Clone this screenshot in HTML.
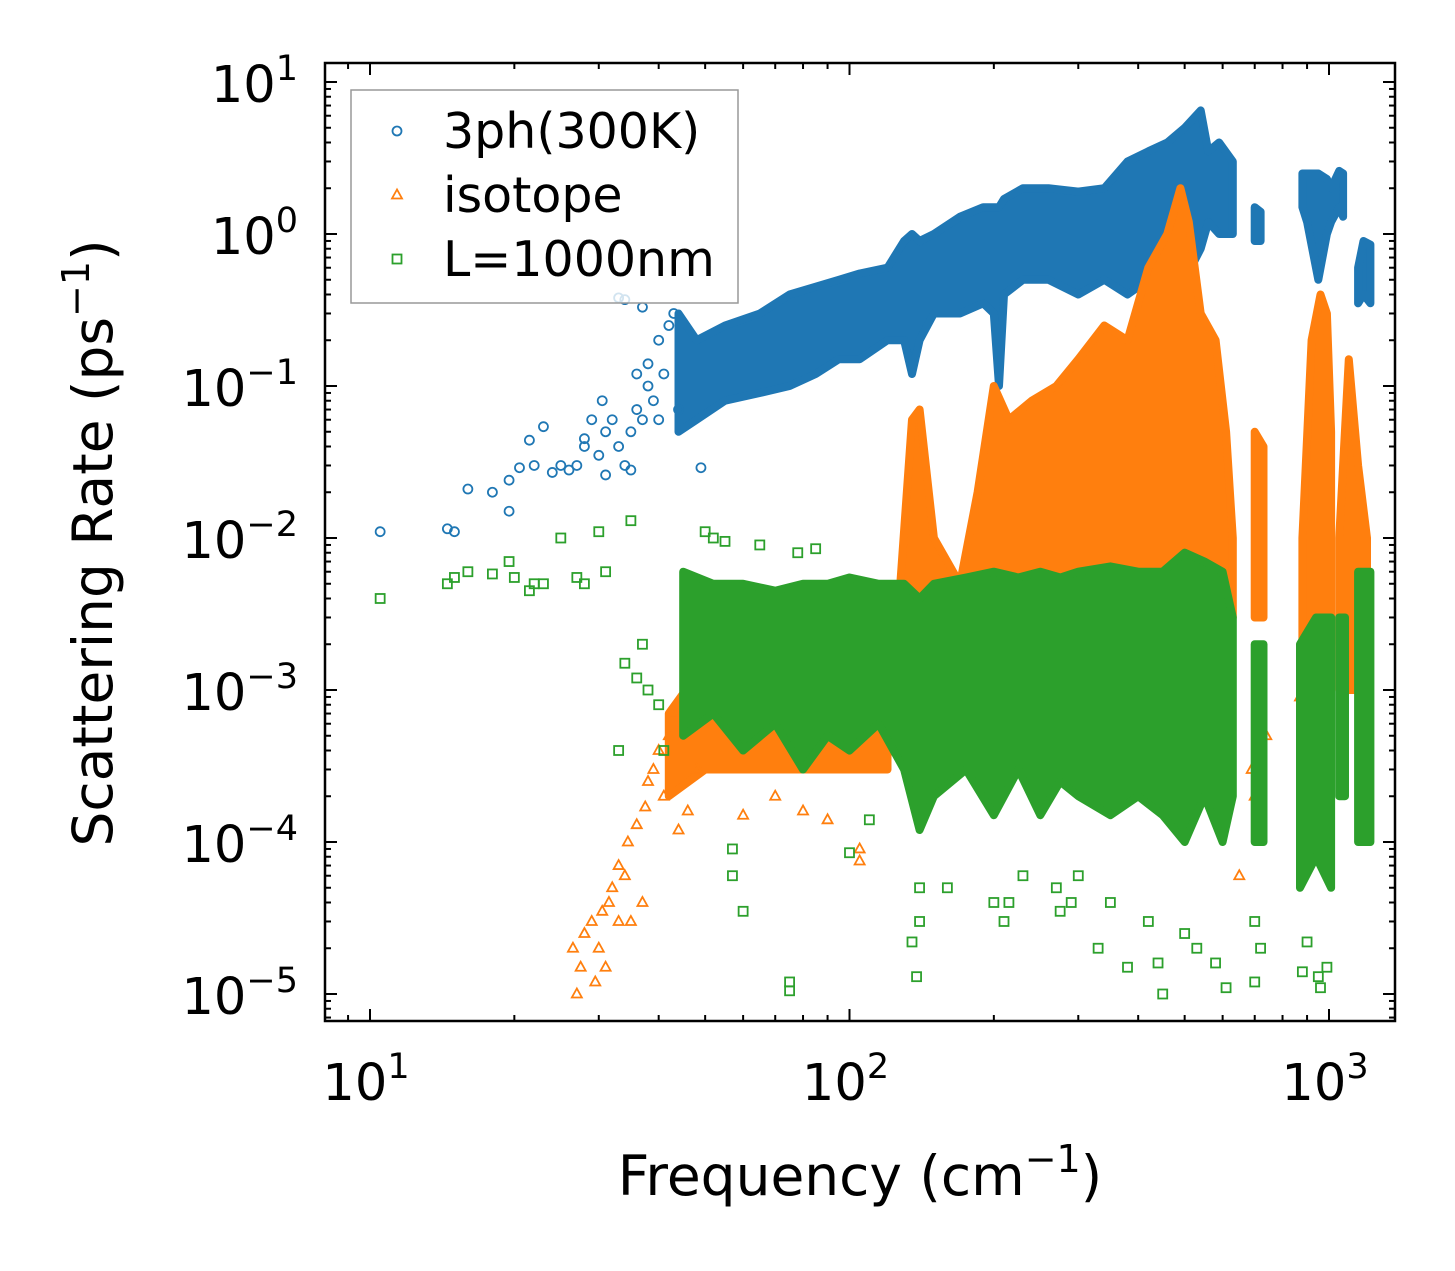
<!DOCTYPE html>
<html><head><meta charset="utf-8"><style>
html,body{margin:0;padding:0;background:#fff;}
svg{display:block;font-family:"DejaVu Sans","Liberation Sans",sans-serif;}
</style></head><body>
<svg id="chart" width="1455" height="1271" viewBox="0 0 1455 1271" xmlns="http://www.w3.org/2000/svg">
<rect x="0" y="0" width="1455" height="1271" fill="#fff"/>
<g id="plot"></g>
<g id="axes"></g>
</svg>
<script>
// ---- data ----
const xTickValues=[10,100,1000];
const xTickLabels=["1","2","3"];
const yTickValues=[10,1,0.1,0.01,0.001,0.0001,0.00001];
const yTickLabels=["1","0","\u22121","\u22122","\u22123","\u22124","\u22125"];

const blueFreq=[10.5,14.5,15,16,18,19.5,19.5,20.5,21.5,22,23,24,25,26,27,28,28,29,30,30.5,31,31,32,33,33,34,34,35,35,36,36,37,37,38,38,39,40,40,41,42,43,44,49];
const blueVal=[0.011,0.0115,0.011,0.021,0.02,0.015,0.024,0.029,0.044,0.03,0.054,0.027,0.03,0.028,0.03,0.04,0.045,0.06,0.035,0.08,0.026,0.05,0.06,0.04,0.38,0.37,0.03,0.05,0.028,0.07,0.12,0.06,0.33,0.1,0.14,0.08,0.2,0.06,0.12,0.25,0.3,0.07,0.029];
const blueBands=[
 {freq:[44,48,55,65,75,85,95,105,120,130,135,140,150,170,190,200,205,210,230,260,300,340,380,420,460,500,540,560,590,630],
  hi:[0.3,0.2,0.25,0.3,0.4,0.45,0.5,0.55,0.6,0.9,1.0,0.9,1.0,1.3,1.5,1.5,1.5,1.7,2,2,1.9,2,3,3.5,4,5,6.5,3.5,4,3],
  lo:[0.05,0.06,0.08,0.09,0.1,0.12,0.15,0.15,0.2,0.2,0.12,0.2,0.3,0.3,0.35,0.3,0.1,0.4,0.5,0.5,0.4,0.5,0.4,0.5,0.4,0.5,0.8,1.2,1,1]},
 {freq:[700,720],hi:[1.5,1.4],lo:[0.9,0.9]},
 {freq:[880,900,950,990,1010,1050,1070],hi:[2.5,2.5,2.5,2.3,2,2.6,2.5],lo:[1.5,1.2,0.5,1,1.2,1.5,1.3]},
 {freq:[1150,1180,1220],hi:[0.6,0.9,0.85],lo:[0.35,0.4,0.35]}
];

const orangeFreq=[26.5,27,27.5,28,29,29.5,30,30.5,31,31.5,32,33,33,34,34.5,35,36,37,37.5,38,39,40,41,42,43,44,46,48,60,70,80,90,105,105,650,690,700,720,740,870];
const orangeVal=[2e-5,1e-5,1.5e-5,2.5e-5,3e-5,1.2e-5,2e-5,3.5e-5,1.5e-5,4e-5,5e-5,7e-5,3e-5,6e-5,1e-4,3e-5,1.3e-4,4e-5,1.7e-4,2.5e-4,3e-4,4e-4,2e-4,5e-4,7e-4,1.2e-4,1.6e-4,3e-4,1.5e-4,2e-4,1.6e-4,1.4e-4,9e-5,7.5e-5,6e-5,3e-4,2e-4,1.3e-4,5e-4,9e-4];
const orangeBands=[
 {freq:[42,50,60,70,80,90,100,110,120],lo:[2e-4,3e-4,3e-4,3e-4,3e-4,3e-4,3e-4,3e-4,3e-4],hi:[7e-4,1.5e-3,1.5e-3,1.2e-3,1.5e-3,1.3e-3,1.2e-3,1.5e-3,2e-3]},
 {freq:[125,135,140,150,170,185,200,215,240,270,300,340,380,420,460,490,510,540,580,610,630],
  hi:[2e-3,0.06,0.07,0.01,0.005,0.02,0.1,0.06,0.08,0.1,0.15,0.25,0.2,0.6,1.0,2.0,1.2,0.3,0.2,0.05,0.01],
  lo:[5e-4,2e-3,3e-3,2e-3,1e-3,2e-3,3e-3,3e-3,3e-3,3e-3,3e-3,3e-3,3e-3,3e-3,3e-3,3e-3,3e-3,3e-3,3e-3,3e-3,3e-3]},
 {freq:[700,730],hi:[0.05,0.04],lo:[3e-3,3e-3]},
 {freq:[880,920,960,990,1010],hi:[0.01,0.2,0.4,0.3,0.05],lo:[2e-3,2e-3,2e-3,2e-3,2e-3]},
 {freq:[1050,1100,1150,1200],hi:[0.01,0.15,0.03,0.01],lo:[1e-3,1e-3,1e-3,1e-3]}
];

const greenFreq=[10.5,14.5,15,16,18,19.5,20,21.5,22,23,25,27,28,30,31,33,34,35,36,37,38,40,41,50,52,55,57,57,60,75,75,65,78,85,100,110,135,138,140,140,160,200,210,215,230,270,275,290,300,330,350,380,420,440,450,500,530,580,610,700,700,720,880,900,950,960,990];
const greenVal=[0.004,0.005,0.0055,0.006,0.0058,0.007,0.0055,0.0045,0.005,0.005,0.01,0.0055,0.005,0.011,0.006,0.0004,0.0015,0.013,0.0012,0.002,0.001,0.0008,0.0004,0.011,0.01,0.0095,9e-5,6e-5,3.5e-5,1.2e-5,1.05e-5,0.009,0.008,0.0085,8.5e-5,1.4e-4,2.2e-5,1.3e-5,3e-5,5e-5,5e-5,4e-5,3e-5,4e-5,6e-5,5e-5,3.5e-5,4e-5,6e-5,2e-5,4e-5,1.5e-5,3e-5,1.6e-5,1e-5,2.5e-5,2e-5,1.6e-5,1.1e-5,1.2e-5,3e-5,2e-5,1.4e-5,2.2e-5,1.3e-5,1.1e-5,1.5e-5];
const greenBands=[
 {freq:[45,52,60,70,80,90,100,115,130,140,150,175,200,225,250,275,300,350,400,450,500,550,600,630],
  lo:[5e-4,7e-4,4e-4,6e-4,3e-4,5e-4,4e-4,6e-4,3e-4,1.2e-4,2e-4,3e-4,1.5e-4,3e-4,1.5e-4,2.5e-4,2e-4,1.5e-4,2e-4,1.5e-4,1e-4,2e-4,1e-4,2e-4],
  hi:[6e-3,5e-3,5e-3,4.5e-3,5e-3,5e-3,5.5e-3,5e-3,5e-3,4e-3,5e-3,5.5e-3,6e-3,5.5e-3,6e-3,5.5e-3,6e-3,6.5e-3,6e-3,6e-3,8e-3,7e-3,6e-3,3e-3]},
 {freq:[700,730],lo:[1e-4,1e-4],hi:[2e-3,2e-3]},
 {freq:[870,940,1010],lo:[5e-5,8e-5,5e-5],hi:[2e-3,3e-3,3e-3]},
 {freq:[1050,1080],lo:[2e-4,2e-4],hi:[3e-3,3e-3]},
 {freq:[1150,1220],lo:[1e-4,1e-4],hi:[6e-3,6e-3]}
];

// ---- axes functions ----
const X0=325,X1=1395,Y0=63,Y1=1021;
function xs(f){return 370+479.5*Math.log10(f/10);}
function ys(v){return 234-152*Math.log10(v);}
const NS="http://www.w3.org/2000/svg";
const plot=document.getElementById('plot');
const axes=document.getElementById('axes');
function mk(tag,attrs,parent){const e=document.createElementNS(NS,tag);for(const k in attrs)e.setAttribute(k,attrs[k]);parent.appendChild(e);return e;}

const clip=mk('clipPath',{id:'cp'},document.getElementById('chart'));
mk('rect',{x:X0,y:Y0,width:X1-X0,height:Y1-Y0},clip);
plot.setAttribute('clip-path','url(#cp)');

function drawBands(bands,color,name){
  bands.forEach(b=>{
    let pts=[];
    for(let i=0;i<b.freq.length;i++)pts.push(xs(b.freq[i]).toFixed(1)+','+ys(b.hi[i]).toFixed(1));
    for(let i=b.freq.length-1;i>=0;i--)pts.push(xs(b.freq[i]).toFixed(1)+','+ys(b.lo[i]).toFixed(1));
    const p=mk('polygon',{points:pts.join(' '),fill:color,stroke:color,'stroke-width':8,'stroke-linejoin':'round'},plot);
    
    
  });
}
function marker(shape,x,y,color,parent){
  let e;
  if(shape==='circle')e=mk('circle',{cx:x,cy:y,r:4.5,fill:'none',stroke:color,'stroke-width':1.8},parent);
  else if(shape==='tri')e=mk('polygon',{points:`${x},${y-5.5} ${x-5},${y+3.5} ${x+5},${y+3.5}`,fill:'none',stroke:color,'stroke-width':1.8},parent);
  else e=mk('rect',{x:x-4.5,y:y-4.5,width:9,height:9,fill:'none',stroke:color,'stroke-width':1.8},parent);
  return e;
}
function drawPts(fs,vs,shape,color,name){
  for(let i=0;i<fs.length;i++){
    const e=marker(shape,xs(fs[i]),ys(vs[i]),color,plot);
    
    
  }
}
const BLUE='#1f77b4',ORANGE='#ff7f0e',GREEN='#2ca02c';
drawBands(blueBands,BLUE,'3ph-band');
drawPts(blueFreq,blueVal,'circle',BLUE,'3ph-point');
drawBands(orangeBands,ORANGE,'isotope-band');
drawPts(orangeFreq,orangeVal,'tri',ORANGE,'isotope-point');
drawBands(greenBands,GREEN,'boundary-band');
drawPts(greenFreq,greenVal,'square',GREEN,'boundary-point');

// ---- frame & ticks ----
const frame=mk('rect',{x:X0,y:Y0,width:X1-X0,height:Y1-Y0,fill:'none',stroke:'#000','stroke-width':2.5},axes);


function tick(x1,y1,x2,y2){mk('line',{x1,y1,x2,y2,stroke:'#000','stroke-width':2},axes);}
for(let d=0;d<=3;d++){
  for(let m=1;m<=9;m++){
    const f=Math.pow(10,d)*m; const x=xs(f);
    if(x<X0||x>X1)continue;
    const L=m===1?12:6;
    tick(x,Y1,x,Y1-L);tick(x,Y0,x,Y0+L);
  }
}
for(let d=-6;d<=1;d++){
  for(let m=1;m<=9;m++){
    const v=Math.pow(10,d)*m; const y=ys(v);
    if(y<Y0||y>Y1)continue;
    const L=m===1?12:6;
    tick(X0,y,X0+L,y);tick(X1,y,X1-L,y);
  }
}
xTickValues.forEach((v,i)=>{
  const t=mk('text',{x:xs(v)-4,y:1100,'font-size':51,'text-anchor':'middle',fill:'#000'},axes);
  
  
  t.innerHTML='10<tspan dy="-22" font-size="35">'+xTickLabels[i]+'</tspan>';
});
yTickValues.forEach((v,i)=>{
  const t=mk('text',{x:298,y:ys(v)+20,'font-size':51,'text-anchor':'end',fill:'#000'},axes);
  
  
  t.innerHTML='<tspan>10</tspan><tspan dy="-22" font-size="35">'+yTickLabels[i]+'</tspan>';
});
const xl=mk('text',{x:860,y:1195,'font-size':55,'text-anchor':'middle',fill:'#000'},axes);


xl.innerHTML='Frequency (cm<tspan dy="-23" font-size="38">\u22121</tspan><tspan dy="23">)</tspan>';
const yl=mk('text',{x:0,y:0,'font-size':55,'text-anchor':'middle',fill:'#000',transform:'translate(112,543) rotate(-90)'},axes);


yl.innerHTML='Scattering Rate (ps<tspan dy="-23" font-size="38">\u22121</tspan><tspan dy="23">)</tspan>';

// ---- legend ----
const leg=mk('g',{},axes);


mk('rect',{x:351,y:90,width:387,height:213,fill:'#fff','fill-opacity':0.8,stroke:'#999','stroke-width':1.5},leg);
const legLabels=['3ph(300K)','isotope','L=1000nm'];
const legShapes=['circle','tri','square'];
const legColors=[BLUE,ORANGE,GREEN];
legLabels.forEach((l,i)=>{
  const y=131+i*64;
  const g=mk('g',{},leg);
  
  
  marker(legShapes[i],397,y,legColors[i],g);
  mk('text',{x:443,y:y+17,'font-size':49,fill:'#000'},g).textContent=l;
});
</script>
</body></html>
